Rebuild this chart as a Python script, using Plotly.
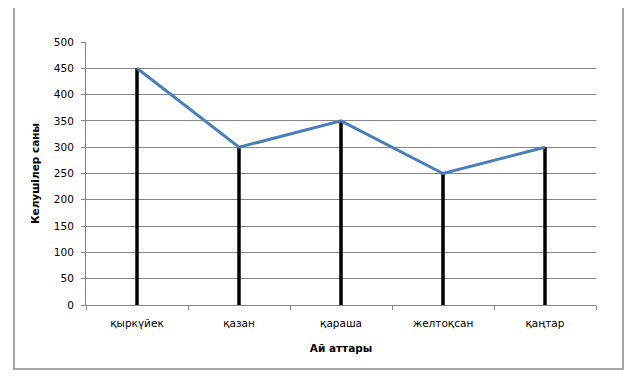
import plotly.graph_objects as go

months = ["қыркүйек", "қазан", "қараша", "желтоқсан", "қаңтар"]
visitors = [450, 300, 350, 250, 300]
y_ticks = [0, 50, 100, 150, 200, 250, 300, 350, 400, 450, 500]

fig = go.Figure()

# black drop lines from 0 to each value
drop_x, drop_y = [], []
for m, v in zip(months, visitors):
    drop_x += [m, m, None]
    drop_y += [0, v, None]
fig.add_trace(go.Scatter(x=drop_x, y=drop_y, mode="lines",
                         line=dict(color="black", width=3.5),
                         hoverinfo="skip", showlegend=False))

fig.add_trace(go.Scatter(x=months, y=visitors, mode="lines",
                         line=dict(color="#4A7EBB", width=3),
                         showlegend=False))

font = "Verdana, DejaVu Sans, sans-serif"
OFF = 8  # page body margin
W, H = 633 - OFF, 379 - OFF
L, T = 86 - OFF, 42 - OFF
R = OFF + W - 596
B = OFF + H - 305
pw, ph = W - L - R, H - T - B

def px_x(x):
    return (x - OFF - L) / pw

def px_y(y):
    return (H - B - (y - OFF)) / ph

fig.update_layout(
    width=W, height=H,
    margin=dict(l=L, r=R, t=T, b=B),
    paper_bgcolor="white", plot_bgcolor="white",
    font=dict(family=font, size=10.5, color="black"),
    xaxis=dict(
        type="category", tickson="boundaries",
        ticks="outside", ticklen=4, tickcolor="#868686",
        ticklabelstandoff=8,
        showline=True, linecolor="#868686", linewidth=1,
        showgrid=False, range=[-0.5, 4.5],
        tickfont=dict(family=font, size=10.5),
        title=dict(text="<b>Ай аттары</b>", font=dict(family=font, size=10.5), standoff=17),
    ),
    yaxis=dict(
        range=[0, 500], tickvals=y_ticks,
        ticks="outside", ticklen=4, tickcolor="#868686",
        ticklabelstandoff=5,
        showline=True, linecolor="#868686", linewidth=1,
        showgrid=True, gridcolor="#868686", gridwidth=1,
        zeroline=False,
        tickfont=dict(family=font, size=10.5),
        title=dict(text="<b>Келушілер саны</b>", font=dict(family=font, size=10.5), standoff=12),
    ),
    shapes=[dict(
        type="rect", xref="paper", yref="paper",
        x0=px_x(14), x1=px_x(623),
        y0=px_y(369), y1=px_y(7),
        line=dict(color="#868686", width=1.5), layer="below",
    )],
)

fig.write_html("out.html")
